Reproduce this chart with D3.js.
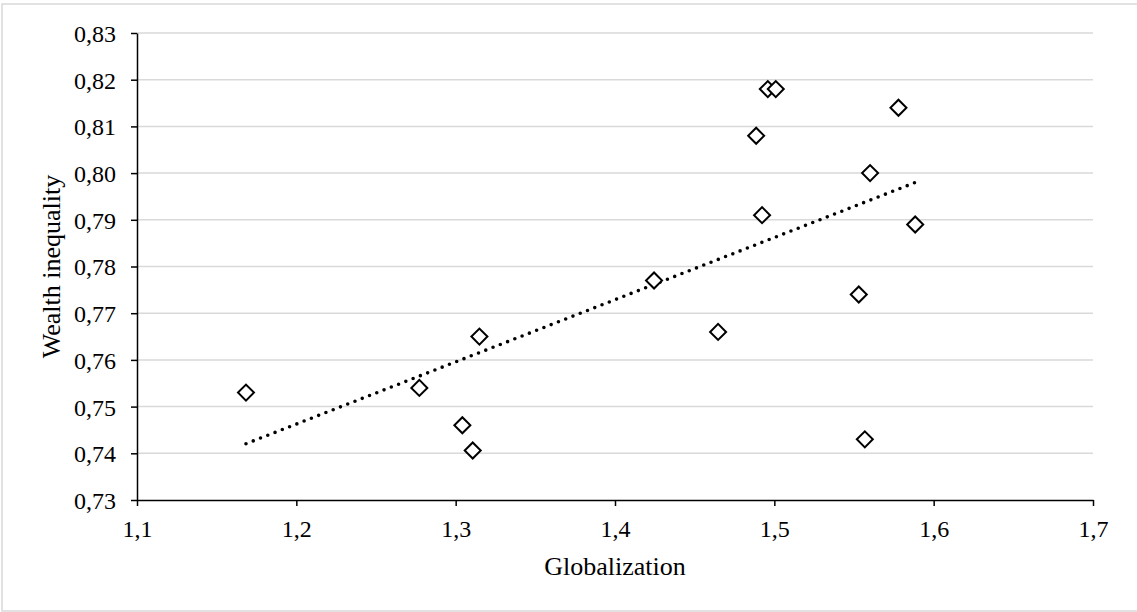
<!DOCTYPE html>
<html>
<head>
<meta charset="utf-8">
<script src="https://cdn.jsdelivr.net/npm/d3@7"></script>
<style>
  html, body { margin: 0; padding: 0; background: #fff; }
  svg { display: block; }
  svg text { font-family: 'Liberation Serif', 'DejaVu Serif', serif; fill: #000; }
</style>
</head>
<body>
<svg id="chart" width="1137" height="612"></svg>
<script>
// Globalization index (x) vs. wealth inequality (y), one diamond per country
const globalization = [1.4959, 1.5009, 1.5779, 1.4886, 1.5601, 1.4923, 1.5884, 1.1684,
                       1.2772, 1.3149, 1.3042, 1.3107, 1.4245, 1.4647, 1.5530, 1.5568];
const wealthInequality = [0.818, 0.818, 0.814, 0.808, 0.800, 0.791, 0.789, 0.753,
                          0.754, 0.765, 0.746, 0.7406, 0.777, 0.766, 0.774, 0.743];
const xTicks = [1.1, 1.2, 1.3, 1.4, 1.5, 1.6, 1.7];
const yTicks = [0.73, 0.74, 0.75, 0.76, 0.77, 0.78, 0.79, 0.80, 0.81, 0.82, 0.83];
const xTitle = "Globalization";
const yTitle = "Wealth inequality";

const points = globalization.map((g, i) => ({ x: g, y: wealthInequality[i] }));

const FONT = "'Liberation Serif', 'DejaVu Serif', serif";
const svg = d3.select("#chart");
const plotLeft = 137, plotRight = 1093, plotTop = 33, plotBottom = 500;

const x = d3.scaleLinear().domain([1.1, 1.7]).range([plotLeft, plotRight]);
const y = d3.scaleLinear().domain([0.73, 0.83]).range([plotBottom, plotTop]);
const comma = d => d3.format(".1f")(d).replace(".", ",");
const comma2 = d => d3.format(".2f")(d).replace(".", ",");

// outer chart frame
svg.append("rect")
  .attr("x", 2).attr("y", 4).attr("width", 1150).attr("height", 607)
  .attr("fill", "none").attr("stroke", "#d9d9d9").attr("stroke-width", 1.5);

// horizontal gridlines
svg.append("g").selectAll("line")
  .data(yTicks.slice(1))
  .join("line")
  .attr("x1", plotLeft).attr("x2", plotRight)
  .attr("y1", d => y(d)).attr("y2", d => y(d))
  .attr("stroke", "#d9d9d9").attr("stroke-width", 1.5);

// axes
const xAxis = svg.append("g")
  .attr("transform", `translate(0,${plotBottom})`)
  .call(d3.axisBottom(x).tickValues(xTicks).tickFormat(comma).tickSize(6).tickSizeOuter(0));
const yAxis = svg.append("g")
  .attr("transform", `translate(${plotLeft},0)`)
  .call(d3.axisLeft(y).tickValues(yTicks).tickFormat(comma2).tickSize(6).tickSizeOuter(0));

[xAxis, yAxis].forEach(a => {
  a.attr("font-family", null).attr("font-size", null);
  a.select(".domain").attr("stroke", "#000").attr("stroke-width", 1.5);
  a.selectAll(".tick line").attr("stroke", "#000").attr("stroke-width", 1.5);
  a.selectAll(".tick text")
    .style("font-family", FONT)
    .style("font-size", "24px").attr("fill", "#000");
});
xAxis.selectAll(".tick text").attr("dy", 0).attr("y", 37);
yAxis.selectAll(".tick text").attr("x", -21).attr("dy", "0.35em");

// least-squares trendline spanning the data range
const mx = d3.mean(points, d => d.x), my = d3.mean(points, d => d.y);
const slope = d3.sum(points, d => (d.x - mx) * (d.y - my)) / d3.sum(points, d => (d.x - mx) ** 2);
const intercept = my - slope * mx;
const [xmin, xmax] = d3.extent(points, d => d.x);
const trend = [xmin, xmax].map(v => ({ x: v, y: intercept + slope * v }));

svg.append("path")
  .datum(trend)
  .attr("d", d3.line().x(d => x(d.x)).y(d => y(d.y)))
  .attr("fill", "none")
  .attr("stroke", "#000")
  .attr("stroke-width", 3.6)
  .attr("stroke-linecap", "round")
  .attr("stroke-dasharray", "0 7.8");

// diamond markers
const diamond = d3.symbol().type(d3.symbolSquare).size(128);
svg.append("g").selectAll("path")
  .data(points)
  .join("path")
  .attr("d", diamond)
  .attr("transform", d => `translate(${x(d.x)},${y(d.y)}) rotate(45)`)
  .attr("fill", "#fff")
  .attr("stroke", "#000")
  .attr("stroke-width", 2);

// axis titles
svg.append("text")
  .attr("x", (plotLeft + plotRight) / 2).attr("y", 575)
  .attr("text-anchor", "middle")
  .style("font-family", FONT).style("font-size", "26px")
  .text(xTitle);

svg.append("text")
  .attr("transform", `translate(60,${(plotTop + plotBottom) / 2}) rotate(-90)`)
  .attr("text-anchor", "middle")
  .style("font-family", FONT).style("font-size", "26px")
  .text(yTitle);
</script>
</body>
</html>
